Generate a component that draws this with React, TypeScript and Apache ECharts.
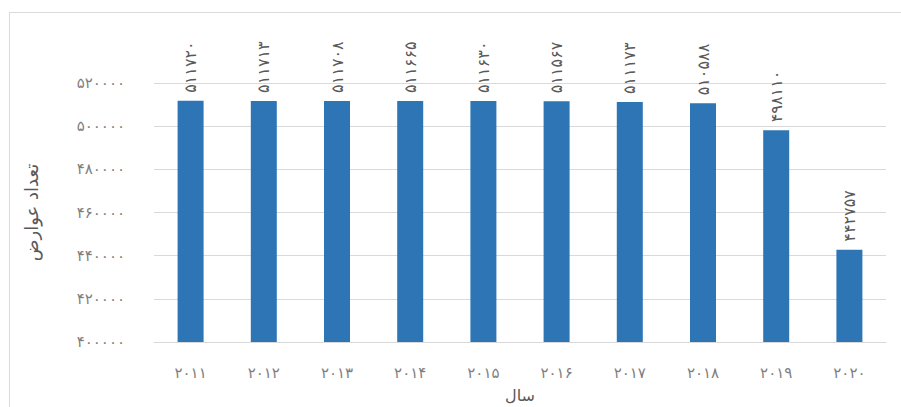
import React, { useEffect, useRef } from "react";
import * as echarts from "echarts";

const years = ["۲۰۱۱", "۲۰۱۲", "۲۰۱۳", "۲۰۱۴", "۲۰۱۵", "۲۰۱۶", "۲۰۱۷", "۲۰۱۸", "۲۰۱۹", "۲۰۲۰"];
const values = [511720, 511713, 511708, 511665, 511630, 511567, 511173, 510588, 498110, 442757];
const yAxisTitle = "تعداد عوارض";
const xAxisTitle = "سال";

const faDigits = "۰۱۲۳۴۵۶۷۸۹";
const toFa = (n: number | string) => String(n).replace(/[0-9]/g, (d) => faDigits[Number(d)]);

const FONT = "DejaVu Sans";

export default function App() {
  const ref = useRef<HTMLDivElement>(null);
  useEffect(() => {
    if (!ref.current) return;
    const chart = echarts.init(ref.current, undefined, { renderer: "svg" });
    chart.setOption({
      animation: false,
      backgroundColor: "#ffffff",
      grid: { left: 154, right: 15, top: 83, bottom: 65, containLabel: false, outerBoundsMode: "none" },
      graphic: [
        { type: "line", shape: { x1: 9.5, y1: 12, x2: 9.5, y2: 407 }, style: { stroke: "#d9d9d9", lineWidth: 1 } },
        { type: "line", shape: { x1: 9, y1: 12.5, x2: 901, y2: 12.5 }, style: { stroke: "#d9d9d9", lineWidth: 1 } },
      ],
      xAxis: {
        type: "category",
        data: years,
        name: xAxisTitle,
        nameLocation: "middle",
        nameGap: 45,
        nameTextStyle: { fontFamily: FONT, fontSize: 16, color: "#595959" },
        axisLine: { lineStyle: { color: "#d9d9d9" } },
        axisTick: { show: false },
        axisLabel: { fontFamily: FONT, fontSize: 15, color: "#7f7f7f", margin: 23 },
      },
      yAxis: {
        type: "value",
        min: 400000,
        max: 520000,
        interval: 20000,
        name: yAxisTitle,
        nameLocation: "middle",
        nameRotate: 90,
        nameGap: 114,
        nameTextStyle: { fontFamily: FONT, fontSize: 18, color: "#595959" },
        axisLine: { show: false },
        axisTick: { show: false },
        splitLine: { lineStyle: { color: "#d9d9d9" } },
        axisLabel: {
          fontFamily: FONT,
          fontSize: 15,
          color: "#7f7f7f",
          margin: 29,
          formatter: (v: number) => toFa(v),
        },
      },
      series: [
        {
          type: "bar",
          data: values,
          barWidth: 26,
          itemStyle: { color: "#2e75b6" },
          label: {
            show: true,
            position: "top",
            rotate: 90,
            align: "left",
            verticalAlign: "middle",
            distance: 8,
            fontFamily: FONT,
            fontSize: 16,
            color: "#595959",
            formatter: (p: any) => toFa(p.value),
          },
        },
      ],
    });
    return () => chart.dispose();
  }, []);
  return (
    <div
      ref={ref}
      style={{ position: "fixed", left: 0, top: 0, width: 901, height: 407, background: "#fff" }}
    />
  );
}
